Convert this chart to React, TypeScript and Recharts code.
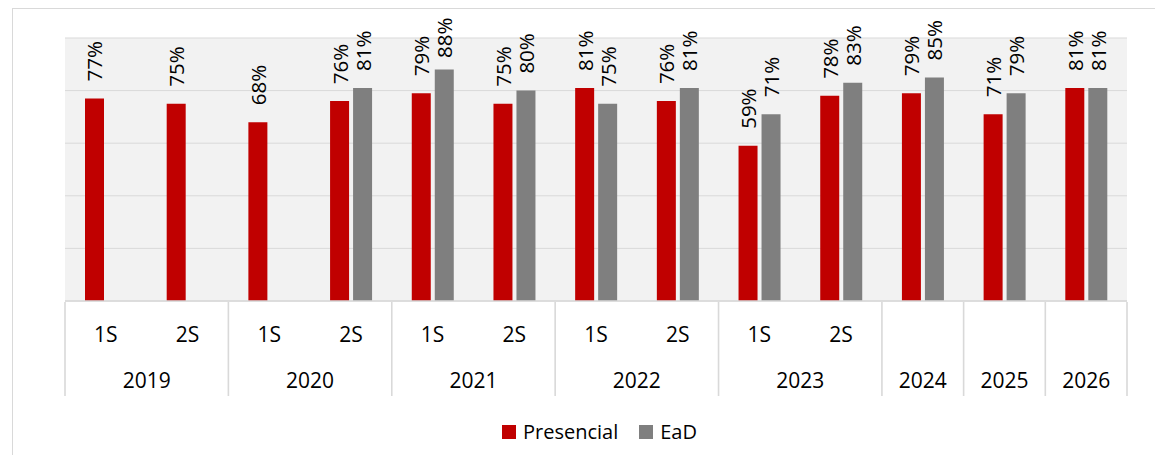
import React from 'react';
import { BarChart, Bar, XAxis, YAxis, CartesianGrid, LabelList, Legend } from 'recharts';

const years = ['2019', '2019', '2020', '2020', '2021', '2021', '2022', '2022', '2023', '2023', '2024', '2025', '2026'];
const semesters = ['1S', '2S', '1S', '2S', '1S', '2S', '1S', '2S', '1S', '2S', '', '', ''];
const presencial: (number | null)[] = [77, 75, 68, 76, 79, 75, 81, 76, 59, 78, 79, 71, 81];
const ead: (number | null)[] = [null, null, null, 81, 88, 80, 75, 81, 71, 83, 85, 79, 81];
const yTicks = [0, 20, 40, 60, 80, 100];

const RED = '#C00000';
const GRAY = '#7F7F7F';
const LINE = '#d9d9d9';
const FONT = '"Open Sans", "Noto Sans", sans-serif';

const data = years.map((year, i) => ({
  id: `${year}-${semesters[i] || 'A'}-${i}`,
  year,
  sem: semesters[i],
  presencial: presencial[i],
  ead: ead[i],
}));

function CategoryTick(props: any) {
  const { x, y, payload } = props;
  const i: number = payload?.index ?? props.index ?? 0;
  const half: number = payload?.offset || 40.85;
  const year = years[i];
  const isStart = i === 0 || years[i - 1] !== year;
  const isLast = i === years.length - 1;
  const size = years.filter((v) => v === year).length;
  const sem = semesters[i];
  return (
    <g>
      {sem ? (
        <text x={x} y={y + 33} textAnchor="middle" dominantBaseline="central" fontSize={21} fontFamily={FONT} fill="#000">
          {sem}
        </text>
      ) : null}
      {isStart ? (
        <line x1={x - half} x2={x - half} y1={y + 1} y2={y + 95} stroke={LINE} strokeWidth={1.6} />
      ) : null}
      {isStart ? (
        <text x={x - half + size * half} y={y + 79} textAnchor="middle" dominantBaseline="central" fontSize={21} fontFamily={FONT} fill="#000">
          {year}
        </text>
      ) : null}
      {isLast ? (
        <line x1={x + half} x2={x + half} y1={y + 1} y2={y + 95} stroke={LINE} strokeWidth={1.6} />
      ) : null}
    </g>
  );
}

function RotLabel(props: any) {
  const { x, y, width, value } = props;
  if (value === null || value === undefined) return null;
  const cx = Number(x) + Number(width) / 2;
  const sy = Math.max(Number(y) - 17, 58);
  return (
    <text
      x={cx}
      y={sy}
      transform={`rotate(-90, ${cx}, ${sy})`}
      textAnchor="start"
      dominantBaseline="central"
      fontSize={20.5}
      fontFamily={FONT}
      fill="#000"
    >
      {`${value}%`}
    </text>
  );
}

function LegendContent() {
  const items = [
    { name: 'Presencial', color: RED },
    { name: 'EaD', color: GRAY },
  ];
  return (
    <div style={{ display: 'flex', justifyContent: 'center', alignItems: 'center', fontFamily: FONT, fontSize: 20, color: '#000', height: 28 }}>
      {items.map((it, k) => (
        <div key={it.name} style={{ display: 'flex', alignItems: 'center', marginLeft: k === 0 ? 0 : 21 }}>
          <span style={{ display: 'inline-block', width: 14, height: 14, background: it.color, marginRight: 7 }} />
          <span style={{ lineHeight: '28px' }}>{it.name}</span>
        </div>
      ))}
    </div>
  );
}

export default function App() {
  return (
    <div style={{ position: 'absolute', left: 0, top: 0, width: 1155, height: 455, background: '#fff', overflow: 'hidden' }}>
      <div style={{ position: 'absolute', left: 12, top: 8, right: 0, bottom: 0, borderLeft: `1.5px solid ${LINE}`, borderTop: `1.5px solid ${LINE}` }} />
      <BarChart
        width={1155}
        height={455}
        data={data}
        margin={{ top: 38, right: 28, left: 65, bottom: 59 }}
        barSize={19}
        barGap={4}
        style={{ position: 'absolute', left: 0, top: 0 }}
      >
        <CartesianGrid vertical={false} horizontal={true} stroke={LINE} fill="#f2f2f2" />
        <YAxis hide domain={[0, 100]} ticks={yTicks} />
        <XAxis
          dataKey="id"
          height={95}
          interval={0}
          tickLine={false}
          tickSize={0}
          tickMargin={0}
          axisLine={{ stroke: LINE, strokeWidth: 1.6 }}
          tick={<CategoryTick />}
        />
        <Legend
          layout="horizontal"
          verticalAlign="middle"
          align="center"
          content={<LegendContent />}
          wrapperStyle={{ position: 'absolute', top: 418, left: 44, width: 1111, height: 28 }}
        />
        <Bar dataKey="presencial" name="Presencial" fill={RED} isAnimationActive={false}>
          <LabelList dataKey="presencial" content={<RotLabel />} />
        </Bar>
        <Bar dataKey="ead" name="EaD" fill={GRAY} isAnimationActive={false}>
          <LabelList dataKey="ead" content={<RotLabel />} />
        </Bar>
      </BarChart>
    </div>
  );
}
